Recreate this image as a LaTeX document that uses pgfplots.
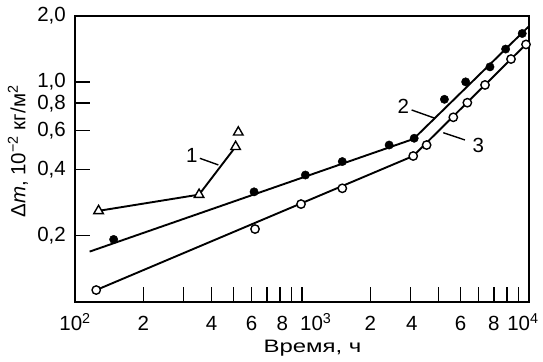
\documentclass[border=0pt]{standalone}
\usepackage{fontspec}
\setmainfont{Liberation Sans}
\usepackage{graphicx}
\usepackage{pgfplots}
\pgfplotsset{compat=1.18}
\begin{document}
\fontsize{20.5bp}{24bp}\selectfont
\begin{tikzpicture}
\begin{axis}[name=ax,
  xmode=log, ymode=log,
  scale only axis, width=454bp, height=286bp,
  xmin=100, xmax=10000, ymin=0.1, ymax=2.0,
  axis line style={line width=1.9bp},
  tick style={line width=1.4bp, black},
  tick align=inside, major tick length=15bp,
  xtick pos=left, ytick pos=left,
  xminorticks=false, yminorticks=false,
  xtick={100,200,300,400,500,600,700,800,900,1000,2000,3000,4000,5000,6000,7000,8000,9000,10000},
  xticklabels={},
  extra x ticks={100,200,400,600,820,1150,2000,3050,5000,7000,9400},
  extra x tick labels={10\textsuperscript{2},2,4,6,8,10\textsuperscript{3},2,4,6,8,10\textsuperscript{4}},
  extra x tick style={major tick length=0pt, tick style={draw=none}},
  ytick={0.2,0.4,0.6,0.8,1.0,2.0},
  yticklabels={{0,2},{0,4},{0,6},{0,8},{1,0},{2,0}},
  x tick label style={text height=14.7bp, text depth=0bp, yshift=-7.2bp},
  y tick label style={xshift=-2.2bp},
  xlabel={\scalebox{1.33}[1]{Время, ч}},
  xlabel style={at={(axis description cs:0.523,-0.178)}, anchor=base, font=\fontsize{18bp}{21bp}\selectfont},
  ylabel={Δ\textit{m}, 10\textsuperscript{−2} кг/м\textsuperscript{2}},
  ylabel style={at={(axis description cs:-0.1256,0.525)}, anchor=center},
  clip=false,
]
% fitted lines
\addplot[line width=1.9bp, mark=none] coordinates {(127,0.259) (352,0.307) (510,0.507)};
\addplot[line width=1.9bp, mark=none] coordinates {(116,0.169) (3100,0.55) (9935,1.78)};
\addplot[line width=1.9bp, mark=none] coordinates {(124,0.113) (3090,0.46) (9935,1.52)};
% series 1: open triangles
\addplot[only marks, mark=triangle*, mark size=5.5bp, mark options={line width=1.4bp, fill=white, draw=black}]
  coordinates {(127,0.259) (352,0.307) (510,0.507) (524,0.590)};
% series 2: filled circles
\addplot[only marks, mark=*, mark size=4.2bp, mark options={fill=black, draw=black}]
  coordinates {(148,0.192) (615,0.316) (1035,0.377) (1505,0.434) (2420,0.516) (3120,0.554) (4240,0.833) (5260,1.0) (6730,1.17) (7890,1.41) (9335,1.66)};
% series 3: open circles
\addplot[only marks, mark=*, mark size=4.2bp, mark options={line width=1.4bp, fill=white, draw=black}]
  coordinates {(124,0.113) (621,0.214) (990,0.278) (1505,0.328) (3090,0.46) (3540,0.516) (4640,0.69) (5350,0.804) (6400,0.968) (8330,1.27) (9700,1.48)};
% curve labels
\node at (axis cs:327,0.465) {1};
\draw[line width=1.4bp] (axis cs:355,0.449) -- (axis cs:428,0.419);
\node at (axis cs:2793,0.771) {2};
\draw[line width=1.4bp] (axis cs:3041,0.745) -- (axis cs:3855,0.683);
\node at (axis cs:5980,0.516) {3};
\draw[line width=1.4bp] (axis cs:4193,0.587) -- (axis cs:5224,0.544);
\end{axis}
\pgfresetboundingbox
\path[use as bounding box] ([xshift=-75bp,yshift=15.7bp]ax.north west) rectangle ([xshift=14bp,yshift=-60.3bp]ax.south east);
\end{tikzpicture}
\end{document}
